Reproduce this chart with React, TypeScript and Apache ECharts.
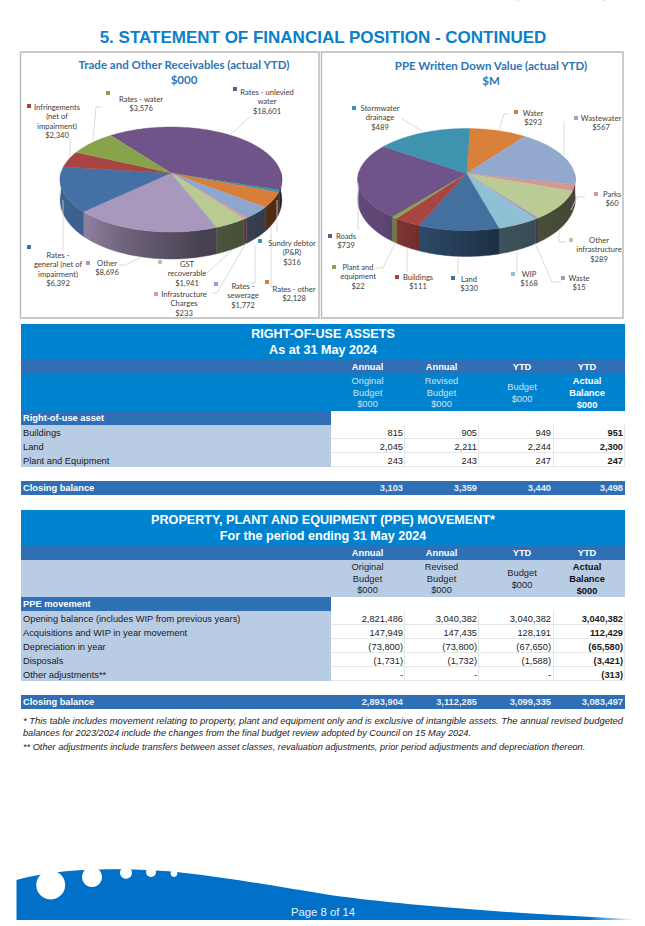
import React, { useEffect, useRef } from "react";
import * as echarts from "echarts";

// ---------- data: receivables pie (clockwise order)
const recvNames = [
  "Rates - unlevied\nwater", "Sundry debtor\n(P&R)", "Rates - other", "Rates -\nsewerage",
  "Infrastructure\nCharges", "GST\nrecoverable", "Other", "Rates -\ngeneral (net of\nimpairment)",
  "Infringements\n(net of\nimpairment)", "Rates - water",
];
const recvValues = [18601, 316, 2128, 1772, 233, 1941, 8696, 6392, 2340, 3576];
const recvColors = ["#6f5389", "#3a93ad", "#d77f3a", "#8fa6cf", "#d89a9a", "#b8cb92", "#a898bd", "#4570a5", "#a64542", "#88a34c"];

// ---------- data: PPE pie (clockwise order)
const ppeNames = [
  "Water", "Wastewater", "Parks", "Other\ninfrastructure", "Waste", "WIP", "Land", "Buildings",
  "Plant and\nequipment", "Roads", "Stormwater\ndrainage",
];
const ppeValues = [293, 567, 60, 289, 15, 168, 330, 111, 22, 739, 489];
const ppeColors = ["#d9803a", "#93a8cd", "#d59795", "#bacb95", "#a898bd", "#90c0d5", "#44709f", "#a64542", "#88a34c", "#6f5389", "#3f93ae"];

// ---------- data: tables
const rouRows = ["Buildings", "Land", "Plant and Equipment"];
const rouOriginal = ["815", "2,045", "243"];
const rouRevised = ["905", "2,211", "243"];
const rouBudget = ["949", "2,244", "247"];
const rouActual = ["951", "2,300", "247"];
const rouClosing = ["3,103", "3,359", "3,440", "3,498"];

const ppeRows = [
  "Opening balance (includes WIP from previous years)", "Acquisitions and WIP in year movement",
  "Depreciation in year", "Disposals", "Other adjustments**",
];
const ppeOriginal = ["2,821,486", "147,949", "(73,800)", "(1,731)", "-"];
const ppeRevised = ["3,040,382", "147,435", "(73,800)", "(1,732)", "-"];
const ppeBudget = ["3,040,382", "128,191", "(67,650)", "(1,588)", "-"];
const ppeActual = ["3,040,382", "112,429", "(65,580)", "(3,421)", "(313)"];
const ppeClosing = ["2,893,904", "3,112,285", "3,099,335", "3,083,497"];

const footnote1 = "* This table includes movement relating to property, plant and equipment only and is exclusive of intangible assets. The annual revised budgeted";
const footnote2 = "balances for 2023/2024 include the changes from the final budget review adopted by Council on 15 May 2024.";
const footnote3 = "** Other adjustments include transfers between asset classes, revaluation adjustments, prior period adjustments and depreciation thereon.";

// ---------- layout of pie labels: [marker x, marker y, text centre x, first line y], leader points
const recvLabelPos = [
  [235, 89, 267, 92], [260, 241, 292, 243], [267, 282, 294, 289], [216, 284, 243, 286], [156, 294, 184, 294],
  [160, 262, 187, 264], [88, 263, 107, 263], [29, 247, 58, 255], [29, 106, 57, 107], [108, 93, 141, 99],
];
const recvLeaders = [
  [[251, 116], [231, 134]], [[277, 200], [277, 232]], [[271, 227], [271, 287], [274, 287]],
  [[255, 245], [255, 283], [250, 283]], [[246, 243], [217, 293], [212, 293]], [[232, 250], [205, 275]],
  [[142, 257], [125, 265], [119, 265]], [[63, 200], [63, 250]], [[70, 138], [70, 157]],
  [[101, 107], [96, 107], [93, 140]],
];
const ppeLabelPos = [
  [516, 112, 533, 113], [576, 118, 601, 118], [596, 194, 612, 194], [571, 240, 599, 240], [563, 278, 579, 278],
  [513, 274, 529, 274], [453, 278, 469, 279], [397, 277, 418, 277], [334, 267, 358, 267], [330, 236, 346, 236],
  [354, 108, 380, 108],
];
const ppeLeaders = [
  [[509, 114], [504, 114], [499, 130]], [[564, 121], [564, 155]], [[585, 197], [577, 197], [571, 210]],
  [[566, 242], [559, 242], [559, 230]], [[561, 282], [552, 282], [535, 243]], [[517, 272], [517, 252]],
  [[458, 274], [458, 257]], [[407, 272], [407, 248]], [[376, 268], [383, 268], [395, 243]],
  [[358, 230], [358, 183]], [[402, 119], [422, 131]],
];

const recvGeom = { cx: 171, ay: 173, R: 110, S: 51.7, k: 0.124, depth: 27, start: -37 };
const ppeGeom = { cx: 466.5, ay: 173.5, R: 108, S: 50.3, k: 0.1176, depth: 26, start: 2 };

const LABEL_FONT = '7.6px Lato, sans-serif';
const ARIAL = '"Liberation Sans", Arial, sans-serif';
const BODY = 9.3;

function shade(hex: string, f: number) {
  const n = parseInt(hex.slice(1), 16);
  const c = [(n >> 16) & 255, (n >> 8) & 255, n & 255].map((v) => Math.round(v * f));
  return `rgb(${c[0]},${c[1]},${c[2]})`;
}

function pieSeries(names: string[], values: number[], colors: string[], pos: number[][], leaders: number[][][], g: any) {
  const total = values.reduce((a, b) => a + b, 0);
  const project = (deg: number, dy = 0) => {
    const t = (deg * Math.PI) / 180;
    const u = Math.sin(t);
    const v = -Math.cos(t);
    const w = 1 - g.k * v;
    return [g.cx + (g.R * u) / w, g.ay + (g.S * v) / w + dy];
  };
  const depthAt = (deg: number) => g.depth * (0.72 + 0.28 * -Math.cos((deg * Math.PI) / 180));
  return {
    type: "custom",
    coordinateSystem: "none",
    silent: true,
    data: names.map((name, i) => ({ name, value: values[i] })),
    renderItem: (params: any, api: any) => {
      const i = params.dataIndex;
      const val = api.value(0);
      let before = 0;
      for (let j = 0; j < i; j++) before += values[j];
      const t0 = g.start + (before / total) * 360;
      const t1 = t0 + (val / total) * 360;
      const samples: number[] = [];
      for (let t = t0; t < t1; t += 1.5) samples.push(t);
      samples.push(t1);
      const color = colors[i];
      const children: any[] = [];
      const vis = samples.filter((t) => Math.cos((t * Math.PI) / 180) <= 0.02);
      if (vis.length > 1) {
        const pts = vis.map((t) => project(t)).concat(vis.slice().reverse().map((t) => project(t, depthAt(t))));
        const grad = new echarts.graphic.LinearGradient(g.cx - g.R, 0, g.cx + g.R, 0, [
          { offset: 0, color: shade(color, 0.88) },
          { offset: 0.1, color: shade(color, 0.85) },
          { offset: 0.28, color: shade(color, 0.66) },
          { offset: 0.64, color: shade(color, 0.43) },
          { offset: 1, color: shade(color, 0.35) },
        ], true);
        children.push({
          type: "polygon",
          z2: 1,
          shape: { points: pts },
          style: { fill: grad, stroke: grad, lineWidth: 0.4 },
        });
      }
      children.push({
        type: "polygon",
        z2: 2,
        shape: { points: [[g.cx, g.ay], ...samples.map((t) => project(t))] },
        style: { fill: color, stroke: color, lineWidth: 0.4, lineJoin: "round" },
      });
      children.push({
        type: "polyline",
        z2: 3,
        shape: { points: leaders[i] },
        style: { stroke: "#cfcfcf", fill: null, lineWidth: 0.8 },
      });
      const [mx, my, tx, ty] = pos[i];
      children.push({ type: "rect", z2: 4, shape: { x: mx - 2, y: my - 2, width: 4, height: 4 }, style: { fill: color } });
      const lines = `${names[i]}\n$${Number(val).toLocaleString("en-US")}`.split("\n");
      lines.forEach((line, li) => {
        children.push({
          type: "text",
          z2: 5,
          x: tx,
          y: ty + li * 9.3,
          style: { text: line, font: LABEL_FONT, fill: "#404040", align: "center", verticalAlign: "middle" },
        });
      });
      return { type: "group", children };
    },
  };
}

function rect(x: number, y: number, w: number, h: number, fill: string) {
  return { type: "rect", silent: true, shape: { x, y, width: w, height: h }, style: { fill } };
}
function txt(text: string, x: number, y: number, size: number, fill: string, align = "left", weight = "normal", style = "normal") {
  return {
    type: "text",
    silent: true,
    x,
    y,
    style: { text, font: `${style} ${weight} ${size}px ${ARIAL}`, fill, align, verticalAlign: "middle" },
  };
}

const L = 21, R = 625, SPLIT = 331;
const COL_LINES = [404, 478, 553];
const COL_RIGHT = [403, 477, 551, 623];
const COL_CENTER = [367.5, 441.5, 522, 587];
const DARK = "#2e6fb5", TOP = "#0083cf", LIGHT = "#b8cce4", GRID = "#e6e6e6";

function tableEls(opts: any) {
  const { top, title1, title2, bandColor, subColor, section, rows, cols, closing } = opts;
  const els: any[] = [];
  const white = "#ffffff";
  els.push(rect(L, top, R - L, 35, TOP));
  els.push(txt(title1, 323, top + 10, 12.6, white, "center", "bold"));
  els.push(txt(title2, 323, top + 26, 12.6, white, "center", "bold"));
  els.push(rect(L, top + 35, R - L, 15, DARK));
  ["Annual", "Annual", "YTD", "YTD"].forEach((s, i) => els.push(txt(s, COL_CENTER[i], top + 42.5, BODY, white, "center", "bold")));
  els.push(rect(L, top + 50, R - L, 37, bandColor));
  const sub = subColor;
  [["Original", "Budget", "$000"], ["Revised", "Budget", "$000"]].forEach((col, i) =>
    col.forEach((s, j) => els.push(txt(s, COL_CENTER[i], top + 57 + j * 11.7, BODY, sub, "center"))));
  ["Budget", "$000"].forEach((s, j) => els.push(txt(s, COL_CENTER[2], top + 63 + j * 11.5, BODY, sub, "center")));
  ["Actual", "Balance", "$000"].forEach((s, j) => els.push(txt(s, COL_CENTER[3], top + 56.5 + j * 12, BODY, opts.actualColor, "center", "bold")));
  els.push(rect(L, top + 87, SPLIT - L, 14, DARK));
  els.push(txt(section, 23, top + 94, BODY, white, "left", "bold"));
  const rowsTop = top + 101;
  els.push(rect(L, rowsTop, SPLIT - L, rows.length * 14, LIGHT));
  rows.forEach((r: string, i: number) => {
    const y = rowsTop + i * 14;
    els.push(rect(SPLIT, y + 13, R - SPLIT, 1, GRID));
    els.push(txt(r, 23, y + 7.5, BODY, "#1a1a1a"));
    cols.forEach((col: string[], c: number) =>
      els.push(txt(col[i], COL_RIGHT[c], y + 7.5, BODY, "#1a1a1a", "right", c === 3 ? "bold" : "normal")));
  });
  COL_LINES.forEach((x) => els.push(rect(x, rowsTop, 1, rows.length * 14, GRID)));
  els.push(rect(R - 1, rowsTop, 1, rows.length * 14, GRID));
  const cy = rowsTop + rows.length * 14 + 14;
  els.push(rect(L, cy, R - L, 14, DARK));
  els.push(txt("Closing balance", 23, cy + 7, BODY, white, "left", "bold"));
  closing.forEach((s: string, c: number) => els.push(txt(s, COL_RIGHT[c], cy + 7, BODY, "#e8eef7", "right", "bold")));
  return els;
}

const FOOTER_PATH = "M16.5 880 C30 876 60 870 100 869.5 C130 868.5 170 871 185 873 C230 878 280 887 330 895 C400 905 520 914 632 919 L632 920 L16.5 920 Z";

export default function App() {
  const ref = useRef<HTMLDivElement>(null);
  useEffect(() => {
    echarts.graphic.registerShape("footerWave", echarts.graphic.extendPath(FOOTER_PATH, {}));
    const chart = echarts.init(ref.current!, undefined, { renderer: "svg" });
    const titleFont = 'bold 11.5px Lato, sans-serif';
    const boxStroke = { stroke: "#b8b8b8", fill: "#ffffff", lineWidth: 1.4 };
    const chartTitle = (text: string, x: number, y: number) => ({
      type: "text", silent: true, x, y, style: { text, font: titleFont, fill: "#2e75b6", align: "center", verticalAlign: "middle" },
    });
    const elements: any[] = [
      rect(517, 0, 2, 1, "#cfe6f7"),
      rect(603, 0, 2, 1, "#cfe6f7"),
      { type: "rect", silent: true, z: -1, shape: { x: 20.5, y: 52, width: 298.5, height: 266 }, style: boxStroke },
      { type: "rect", silent: true, z: -1, shape: { x: 321.5, y: 52, width: 301.5, height: 266 }, style: boxStroke },
      txt("5. STATEMENT OF FINANCIAL POSITION - CONTINUED", 323, 37, 17, "#0a7fcb", "center", "bold"),
      chartTitle("Trade and Other Receivables (actual YTD)", 184, 64),
      chartTitle("$000", 184, 79),
      chartTitle("PPE Written Down Value (actual YTD)", 491, 65),
      chartTitle("$M", 491, 80),
      ...tableEls({
        top: 324, title1: "RIGHT-OF-USE ASSETS", title2: "As at 31 May 2024", bandColor: TOP, subColor: "#c9e3f5", actualColor: "#ffffff",
        section: "Right-of-use asset", rows: rouRows, cols: [rouOriginal, rouRevised, rouBudget, rouActual], closing: rouClosing,
      }),
      ...tableEls({
        top: 510, title1: "PROPERTY, PLANT AND EQUIPMENT (PPE) MOVEMENT*", title2: "For the period ending 31 May 2024", bandColor: LIGHT, subColor: "#262626", actualColor: "#111111",
        section: "PPE movement", rows: ppeRows, cols: [ppeOriginal, ppeRevised, ppeBudget, ppeActual], closing: ppeClosing,
      }),
      { ...txt(footnote1, 23, 721, 9.2, "#222222", "left", "normal", "italic"), scaleX: 1.022 },
      txt(footnote2, 23, 732.5, 9.2, "#222222", "left", "normal", "italic"),
      txt(footnote3, 23, 747, 9.2, "#222222", "left", "normal", "italic"),
      {
        type: "footerWave",
        silent: true,
        x: 0,
        y: 0,
        style: {
          fill: new echarts.graphic.LinearGradient(16, 0, 632, 0, [
            { offset: 0, color: "#0070c8" },
            { offset: 0.93, color: "#0070c8" },
            { offset: 1, color: "rgba(0,112,200,0.05)" },
          ], true),
        },
      },
      { type: "circle", silent: true, shape: { cx: 50.7, cy: 885, r: 14.5 }, style: { fill: "#fff" } },
      { type: "circle", silent: true, shape: { cx: 92, cy: 877, r: 10 }, style: { fill: "#fff" } },
      { type: "circle", silent: true, shape: { cx: 126, cy: 872.7, r: 6 }, style: { fill: "#fff" } },
      { type: "circle", silent: true, shape: { cx: 151, cy: 872, r: 5 }, style: { fill: "#fff" } },
      { type: "circle", silent: true, shape: { cx: 174, cy: 873.5, r: 3.4 }, style: { fill: "#fff" } },
      txt("Page 8 of 14", 323, 912, 11.3, "#e8f2fb", "center"),
    ];
    chart.setOption({
      animation: false,
      backgroundColor: "#ffffff",
      graphic: { elements },
      series: [
        pieSeries(recvNames, recvValues, recvColors, recvLabelPos, recvLeaders, recvGeom),
        pieSeries(ppeNames, ppeValues, ppeColors, ppeLabelPos, ppeLeaders, ppeGeom),
      ],
    });
    return () => chart.dispose();
  }, []);
  return <div ref={ref} style={{ position: "absolute", left: 0, top: 0, width: 645, height: 926 }} />;
}
